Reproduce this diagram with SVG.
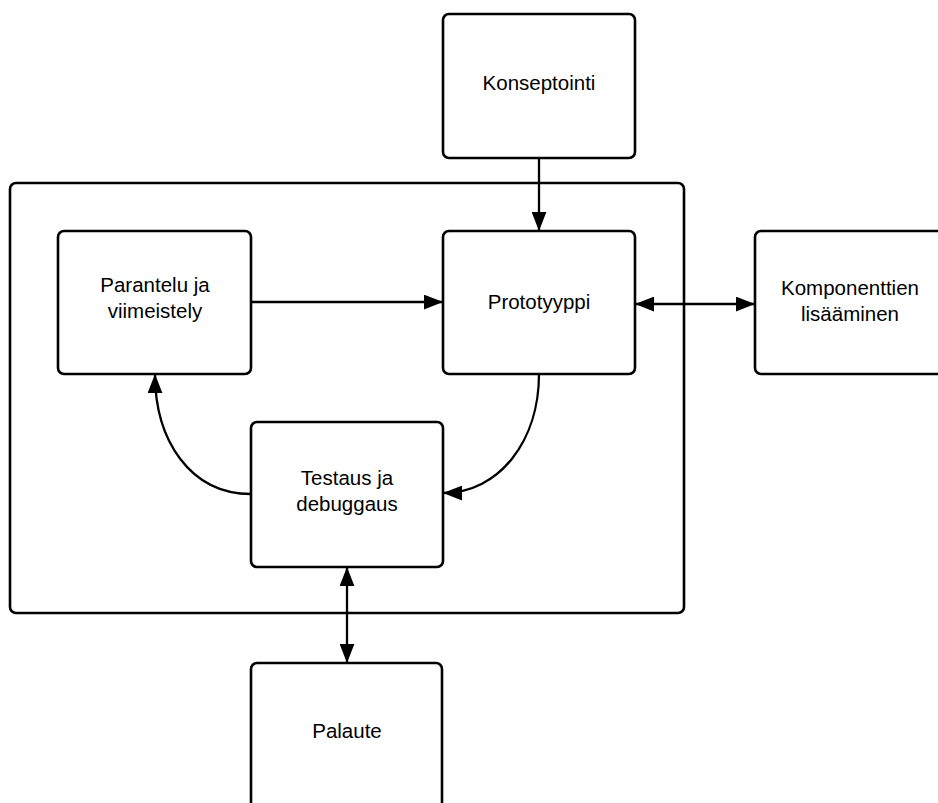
<svg xmlns="http://www.w3.org/2000/svg" width="938" height="803" viewBox="0 0 938 803">
<defs>
<style>
.box{fill:#fff;stroke:#000;stroke-width:2.6}
.frame{fill:none;stroke:#000;stroke-width:2.6}
.lbl{font-family:"Liberation Sans",Arial,sans-serif;font-size:20.5px;fill:#000;text-anchor:middle}
.con{fill:none;stroke:#000;stroke-width:2.3}
</style>
<marker id="ah" viewBox="0 0 18 14" refX="18" refY="7" markerWidth="19" markerHeight="15" markerUnits="userSpaceOnUse" orient="auto-start-reverse">
<path d="M0,0 L18,7 L0,14 z" fill="#000"/>
</marker>
</defs>
<rect width="938" height="803" fill="#fff"/>
<g id="container"><rect class="frame" x="10" y="183" width="674" height="430" rx="6"/></g>
<g id="konseptointi"><rect class="box" x="443" y="14" width="192" height="144" rx="6"/><text class="lbl" x="539" y="90">Konseptointi</text></g>
<g id="parantelu"><rect class="box" x="58" y="231" width="193" height="143" rx="6"/><text class="lbl" x="155" y="292">Parantelu ja</text><text class="lbl" x="155" y="318">viimeistely</text></g>
<g id="prototyyppi"><rect class="box" x="443" y="231" width="192" height="143" rx="6"/><text class="lbl" x="539" y="309">Prototyyppi</text></g>
<g id="komponenttien"><rect class="box" x="755" y="231" width="200" height="143" rx="6"/><text class="lbl" x="850" y="295">Komponenttien</text><text class="lbl" x="850" y="321">lisääminen</text></g>
<g id="testaus"><rect class="box" x="251" y="422" width="192" height="145" rx="6"/><text class="lbl" x="347" y="485">Testaus ja</text><text class="lbl" x="347" y="511">debuggaus</text></g>
<g id="palaute"><rect class="box" x="251" y="663" width="191" height="150" rx="6"/><text class="lbl" x="347" y="738">Palaute</text></g>
<g id="connectors">
<path class="con" d="M539,158 L539,231" marker-end="url(#ah)"/>
<path class="con" d="M251,302 L443,302" marker-end="url(#ah)"/>
<path class="con" d="M635,304 L755,304" marker-start="url(#ah)" marker-end="url(#ah)"/>
<path class="con" d="M539,374 C539,440 500,493 443,493" marker-end="url(#ah)"/>
<path class="con" d="M251,494 C190,494 155,440 155,374" marker-end="url(#ah)"/>
<path class="con" d="M347,567 L347,663" marker-start="url(#ah)" marker-end="url(#ah)"/>
</g>
</svg>
